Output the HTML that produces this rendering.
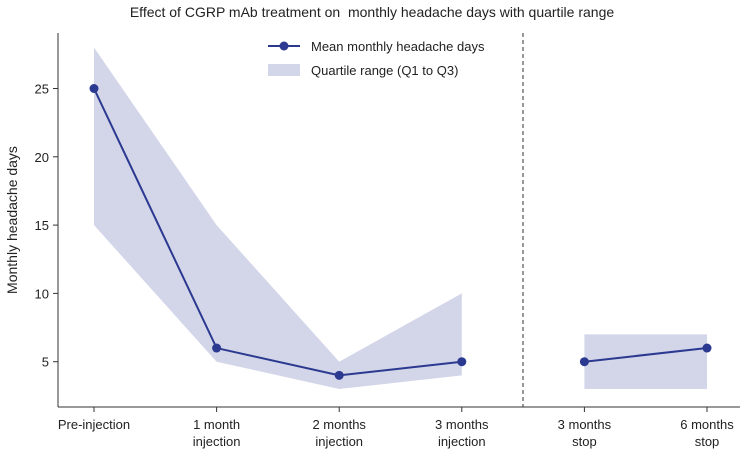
<!DOCTYPE html>
<html><head><meta charset="utf-8"><style>
body{margin:0;background:#fff;font-family:"Liberation Sans",sans-serif}
svg text{font-family:"Liberation Sans",sans-serif;fill:#222}
</style></head><body>
<svg width="745" height="458" viewBox="0 0 745 458">
<text x="372" y="17" text-anchor="middle" font-size="14" style="white-space:pre">Effect of CGRP mAb treatment on  monthly headache days with quartile range</text>
<g id="plot"></g>
</svg>
<script>
const categories=[["Pre-injection"],["1 month","injection"],["2 months","injection"],["3 months","injection"],["3 months","stop"],["6 months","stop"]];
const meanVals=[25,6,4,5,5,6];
const q1Vals=[15,5,3,4,3,3];
const q3Vals=[28,15,5,10,7,7];
const yTicks=[5,10,15,20,25];
const segments=[[0,1,2,3],[4,5]];
const NS="http://www.w3.org/2000/svg";
const g=document.getElementById('plot');
const L=58,R=740,T=33,B=407;
const x=i=>94+i*122.6;
const y=v=>430-v*13.66;
function el(t,a,p){const e=document.createElementNS(NS,t);for(const k in a)e.setAttribute(k,a[k]);(p||g).appendChild(e);return e;}
segments.forEach(s=>{
 let d=s.map((i,j)=>(j?'L':'M')+x(i)+','+y(q3Vals[i])).join('')+s.slice().reverse().map(i=>'L'+x(i)+','+y(q1Vals[i])).join('')+'Z';
 const p=el('path',{d:d,fill:'#d3d5e9'});
 
 
});
const dl=el('line',{x1:523,x2:523,y1:T,y2:B,stroke:'#555','stroke-dasharray':'4,3','stroke-width':1.2});


segments.forEach(s=>{
 const pl=el('polyline',{points:s.map(i=>x(i)+','+y(meanVals[i])).join(' '),fill:'none',stroke:'#2b3990','stroke-width':2});
 
 
});
meanVals.forEach((v,i)=>{
 const c=el('circle',{cx:x(i),cy:y(v),r:4.5,fill:'#2b3990'});
 
 
});
el('line',{x1:L,x2:L,y1:T,y2:B,stroke:'#333'});
el('line',{x1:L,x2:R,y1:B,y2:B,stroke:'#333'});
yTicks.forEach(v=>{
 el('line',{x1:L-5,x2:L,y1:y(v),y2:y(v),stroke:'#333'});
 const t=el('text',{x:L-9,y:y(v)+5,'text-anchor':'end','font-size':13});t.textContent=v;
 
 
});
categories.forEach((c,i)=>{
 el('line',{x1:x(i),x2:x(i),y1:B,y2:B+5,stroke:'#333'});
 c.forEach((s,j)=>{const t=el('text',{x:x(i),y:429+j*17,'text-anchor':'middle','font-size':13});t.textContent=s;
 
 });
});
const yl=el('text',{x:0,y:0,transform:'translate(17,220) rotate(-90)','text-anchor':'middle','font-size':14});
yl.textContent='Monthly headache days';


const lg=el('g',{});


el('line',{x1:268,x2:300,y1:46,y2:46,stroke:'#2b3990','stroke-width':2},lg);
el('circle',{cx:284,cy:46,r:4.5,fill:'#2b3990'},lg);
let t1=el('text',{x:311,y:51,'font-size':13},lg);t1.textContent='Mean monthly headache days';
el('rect',{x:268,y:64,width:32,height:12,fill:'#d3d5e9'},lg);
let t2=el('text',{x:311,y:75,'font-size':13},lg);t2.textContent='Quartile range (Q1 to Q3)';
</script>
</body></html>
